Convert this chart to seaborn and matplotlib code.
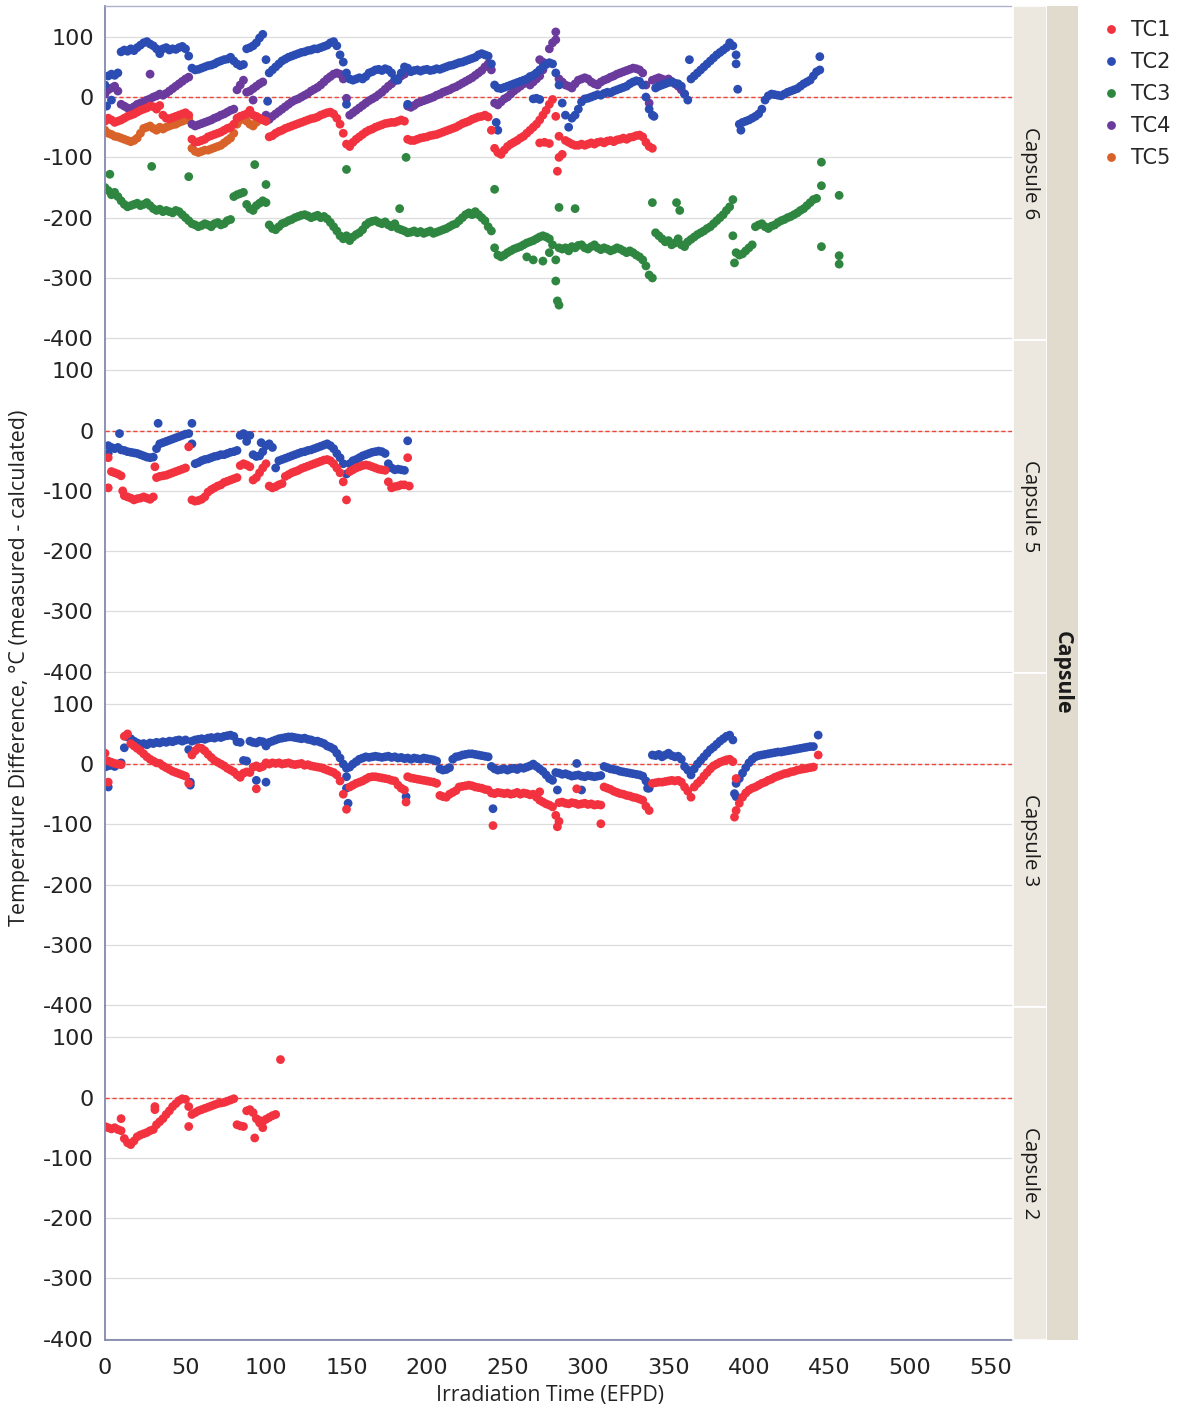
import numpy as np
import pandas as pd
import matplotlib
matplotlib.use("Agg")
import matplotlib.pyplot as plt
from matplotlib.patches import Rectangle
import seaborn as sns

sns.set_theme(style="white")
plt.rcParams["font.family"] = ["Liberation Sans Narrow", "DejaVu Sans"]
plt.rcParams["axes.unicode_minus"] = False

STEP = 2  # EFPD between logged values

# ---------------- Capsule 6 ----------------
c6_tc1_start = 0
c6_tc1 = [-40, -35, -38, -42, -40, -38, -35, -32, -30, -28,
          -25, -22, -20, -18, -15, -16, -20, -14, -30, -35,
          -36, -34, -32, -30, -28, -26, -30, -70, -75, -74,
          -72, -70, -66, -64, -62, -60, -58, -55, -52, -50,
          -45, -35, -32, -30, -28, -22, -30, -32, -35, -38,
          -40, -66, -64, -60, -57, -55, -52, -50, -48, -46,
          -44, -42, -40, -38, -36, -35, -33, -30, -28, -26,
          -25, -28, -35, -45, -60, -78, -82, -75, -70, -66,
          -62, -58, -55, -53, -50, -48, -46, -44, -43, -42,
          -42, -40, -38, -40, -70, -72, -72, -70, -68, -67,
          -66, -64, -63, -62, -60, -58, -56, -54, -52, -50,
          -47, -44, -42, -40, -37, -35, -33, -32, -30, -33,
          -55, -85, -92, -95, -88, -82, -78, -75, -72, -68,
          -65, -60, -55, -50, -45, -38, -30, -22, -12, -4,
          -32, -65, -95, -72, -75, -78, -80, -80, -78, -80,
          -78, -76, -78, -75, -74, -76, -73, -72, -74, -71,
          -70, -68, -70, -67, -66, -64, -63, -66, -75, -82, -85]
c6_tc1_out_x = [270, 273, 276, 282, 281]
c6_tc1_out_y = [-76, -75, -77, -100, -123]

c6_tc2_start = 0
c6_tc2 = [20, 35, 38, 36, 40, 75, 78, 76, 80, 77,
          82, 86, 90, 92, 88, 85, 80, 72, 80, 82,
          78, 80, 79, 82, 84, 80, 68, 48, 45, 46,
          48, 50, 52, 53, 55, 58, 60, 62, 63, 66,
          60, 55, 52, 54, 80, 82, 85, 90, 98, 104,
          62, 40, 45, 50, 55, 60, 63, 66, 68, 70,
          72, 74, 75, 77, 78, 80, 80, 82, 84, 86,
          90, 92, 85, 70, 58, 40, 30, 28, 30, 32,
          30, 34, 40, 42, 45, 46, 44, 47, 45, 40,
          30, 28, 40, 50, 48, 42, 44, 45, 43, 45,
          46, 44, 45, 47, 46, 48, 50, 52, 53, 55,
          57, 58, 60, 62, 64, 66, 70, 72, 70, 68,
          55, 20, 15, 14, 16, 18, 20, 22, 24, 26,
          28, 30, 34, 36, 40, 45, 50, 54, 57, 55,
          40, 20, -10, -30, -50, -35, -30, -20, -8, -3,
          -2, 0, 2, 4, 3, 6, 8, 7, 10, 12,
          14, 16, 18, 22, 25, 27, 26, 20, 0, -20,
          -30, 15, 18, 20, 22, 24, 25, 23, 22, 18,
          5, -5, 30, 35, 40, 45, 50, 55, 60, 65,
          70, 74, 78, 82, 90, 85, 70, -45, -42, -40,
          -38, -35, -32, -28, -20, -5, 2, 5, 4, 3,
          2, 5, 8, 10, 12, 14, 18, 22, 25, 28,
          35, 42, 45]
c6_tc2_out_x = [1, 4, 101, 150, 188, 243, 244, 266, 268, 270, 341, 363, 392, 393, 395, 444]
c6_tc2_out_y = [-15, -5, -7, -12, -12, -42, -55, -3, -2, -4, -32, 62, 55, 13, -55, 67]

c6_tc3_start = 0
c6_tc3 = [-150, -155, -162, -158, -165, -172, -178, -182, -180, -178,
          -176, -180, -178, -175, -180, -185, -188, -186, -190, -188,
          -190, -192, -188, -190, -195, -200, -205, -210, -212, -215,
          -213, -210, -212, -215, -210, -208, -212, -210, -205, -203,
          -165, -162, -160, -158, -178, -185, -188, -180, -176, -172,
          -175, -212, -218, -220, -215, -210, -208, -205, -203, -200,
          -198, -196, -195, -197, -200, -198, -196, -200, -198, -202,
          -208, -215, -222, -230, -235, -230, -238, -232, -228, -225,
          -220, -212, -208, -206, -205, -208, -210, -207, -212, -215,
          -210, -218, -220, -222, -225, -224, -222, -225, -223, -226,
          -224, -222, -226, -224, -222, -220, -218, -215, -212, -210,
          -205, -200, -195, -192, -195, -190, -195, -200, -205, -215,
          -222, -250, -262, -265, -262, -258, -255, -252, -250, -248,
          -245, -242, -240, -238, -235, -232, -230, -232, -235, -245,
          -270, -250, -252, -250, -255, -248, -250, -246, -245, -250,
          -252, -248, -245, -250, -253, -250, -252, -255, -253, -250,
          -252, -255, -258, -255, -258, -262, -265, -270, -280, -295,
          -300, -225, -230, -235, -240, -238, -245, -242, -235, -245,
          -248, -240, -236, -232, -228, -225, -222, -218, -215, -210,
          -205, -200, -195, -188, -182, -230, -258, -262, -260, -255,
          -250, -245, -215, -212, -210, -215, -218, -214, -212, -208,
          -205, -203, -200, -198, -195, -192, -188, -185, -180, -175,
          -170, -168]
c6_tc3_out_x = [3, 29, 52, 93, 100, 150, 183, 187, 242, 262, 266, 272, 276, 280,
                281, 282, 282, 292, 340, 355, 357, 360, 390, 391, 445, 445, 445,
                456, 456, 456]
c6_tc3_out_y = [-128, -115, -132, -112, -145, -120, -185, -100, -153, -265, -270,
                -272, -258, -305, -338, -345, -183, -185, -175, -175, -188, -245,
                -170, -275, -108, -147, -248, -163, -263, -277]

c6_tc4_start = 0
c6_tc4 = [5, 12, 15, 18, 10, -12, -15, -18, -20, -16,
          -12, -10, -8, -5, -3, 0, 2, 5, 3, 6,
          10, 14, 18, 22, 26, 30, 33, -45, -48, -46,
          -44, -42, -40, -38, -35, -33, -30, -28, -25, -22,
          -20, 12, 20, 28, 8, 10, 14, 18, 22, 25,
          -30, -37, -32, -28, -24, -20, -16, -12, -8, -5,
          -3, 0, 3, 6, 10, 13, 16, 20, 25, 30,
          34, 38, 40, 38, 30, -2, -30, -26, -22, -18,
          -14, -10, -6, -3, 0, 4, 8, 13, 18, 22,
          27, 31, 35, 38, -15, -17, -14, -10, -8, -6,
          -4, -2, 0, 3, 5, 8, 10, 12, 15, 17,
          20, 23, 26, 29, 32, 36, 40, 44, 50, 55,
          45, -10, -13, -8, -3, 0, 5, 10, 14, 18,
          22, 26, 20, 25, 30, 35, 45, 55, 80, 90,
          95, 30, 25, 20, 18, 15, 22, 28, 30, 32,
          30, 25, 22, 20, 25, 28, 30, 33, 35, 38,
          40, 42, 44, 46, 48, 47, 45, 40, 20, -10,
          28, 30, 32, 30, 28, 30, 26, 22, 18, 12, 5]
c6_tc4_out_x = [28, 92, 270, 272, 280]
c6_tc4_out_y = [38, -5, 62, 58, 108]

c6_tc5_start = 0
c6_tc5 = [-55, -60, -62, -65, -66, -68, -70, -72, -74, -72,
          -68, -60, -52, -50, -48, -52, -55, -50, -53, -50,
          -48, -46, -45, -42, -40, -38, -36, -85, -90, -92,
          -90, -88, -88, -86, -84, -82, -80, -76, -72, -68,
          -60, -45, -38, -35, -40, -45, -48, -42, -38, -36, -40]
c6_tc5_out_x = []
c6_tc5_out_y = []

# ---------------- Capsule 5 ----------------
c5_tc1_start = 2
c5_tc1 = [-45, -68, -70, -72, -75, -108, -110, -112, -115, -113,
          -112, -110, -112, -114, -110, -78, -76, -75, -74, -72,
          -70, -68, -66, -64, -62, -27, -115, -117, -116, -114,
          -110, -102, -98, -95, -92, -90, -86, -84, -82, -80,
          -78, -58, -55, -57, -60, -82, -78, -70, -62, -55,
          -92, -95, -93, -90, -88, -76, -73, -70, -68, -66,
          -63, -61, -59, -57, -55, -53, -51, -49, -48, -50,
          -55, -62, -70, -85, -115, -68, -65, -62, -60, -58,
          -57, -58, -60, -62, -64, -65, -66, -85, -95, -93,
          -92, -90, -90]
c5_tc1_out_x = [2, 11, 31, 188, 189]
c5_tc1_out_y = [-95, -100, -60, -45, -92]

c5_tc2_start = 2
c5_tc2 = [-25, -28, -30, -28, -32, -33, -35, -36, -37, -38,
          -40, -42, -44, -45, -44, -30, -22, -20, -18, -16,
          -14, -12, -10, -8, -6, -5, -22, -55, -53, -50,
          -48, -47, -45, -43, -42, -40, -40, -38, -36, -35,
          -33, -8, -5, -10, -8, -40, -43, -42, -35, -25,
          -22, -28, -62, -50, -48, -46, -44, -42, -40, -38,
          -36, -35, -33, -32, -30, -28, -26, -24, -22, -25,
          -30, -38, -45, -55, -72, -55, -50, -48, -45, -42,
          -40, -38, -36, -35, -34, -35, -38, -55, -62, -65,
          -64, -65, -66]
c5_tc2_out_x = [2, 9, 33, 54, 88, 97, 188]
c5_tc2_out_y = [-38, -5, 12, 12, -18, -20, -17]

# ---------------- Capsule 3 ----------------
c3_tc1_start = 0
c3_tc1 = [18, 5, 3, 1, 0, -1, 46, 50, 34, 30,
          26, 22, 17, 12, 8, 5, 2, 1, -3, -6,
          -9, -12, -14, -16, -18, -20, -32, 15, 22, 27,
          26, 22, 16, 11, 6, 3, 0, -3, -7, -10,
          -13, -18, -22, -15, -13, -14, -5, -3, -6, -4,
          2, 0, 2, 1, 2, 0, 1, 2, 0, -1,
          0, 1, -2, -1, -3, -4, -5, -6, -8, -10,
          -12, -14, -18, -28, -50, -75, -38, -35, -32, -30,
          -28, -25, -22, -21, -21, -22, -23, -24, -25, -27,
          -28, -35, -40, -43, -21, -23, -24, -25, -26, -27,
          -28, -29, -30, -32, -52, -54, -55, -50, -47, -44,
          -38, -37, -36, -35, -36, -38, -39, -40, -42, -43,
          -48, -49, -47, -48, -49, -48, -50, -49, -47, -50,
          -48, -49, -51, -50, -55, -60, -63, -66, -68, -71,
          -85, -64, -63, -65, -66, -64, -65, -67, -66, -65,
          -67, -66, -68, -67, -68, -38, -40, -42, -45, -47,
          -49, -50, -52, -53, -55, -56, -58, -60, -70, -77,
          -32, -31, -30, -30, -29, -28, -27, -28, -27, -30,
          -38, -45, -55, -38, -32, -27, -20, -14, -8, -3,
          0, 3, 5, 7, 8, 4, -77, -65, -55, -48,
          -43, -40, -38, -35, -32, -30, -27, -25, -22, -20,
          -18, -16, -15, -13, -12, -10, -9, -8, -7, -6,
          -5]
c3_tc1_out_x = [2, 94, 187, 241, 270, 281, 282, 293, 308, 391, 392, 443]
c3_tc1_out_y = [-30, -41, -63, -102, -46, -104, -95, -41, -99, -88, -24, 15]

c3_tc2_start = 0
c3_tc2 = [-5, -3, -2, -4, 0, 2, 27, 45, 42, 38,
          35, 33, 34, 32, 35, 34, 36, 35, 37, 36,
          38, 37, 39, 40, 38, 40, 24, 38, 40, 41,
          42, 41, 43, 44, 43, 45, 44, 46, 47, 48,
          46, 37, 36, 6, 5, 38, 36, 35, 38, 37,
          30, 36, 38, 40, 42, 43, 44, 45, 45, 44,
          43, 42, 43, 41, 40, 38, 38, 36, 34, 30,
          28, 25, 18, 10, 0, -7, -5, 0, 4, 8,
          10, 12, 11, 12, 13, 12, 11, 12, 13, 11,
          12, 10, 11, 9, 10, 8, 10, 9, 8, 10,
          9, 8, 7, 5, -8, -10, -9, -6, 8, 12,
          13, 15, 16, 17, 17, 16, 15, 14, 13, 12,
          -4, -8, -10, -9, -8, -10, -8, -7, -9, -6,
          -7, -5, -3, 0, -4, -8, -12, -18, -24, -27,
          -14, -15, -17, -16, -18, -20, -19, -18, -20, -21,
          -19, -20, -21, -20, -19, -4, -6, -8, -9, -10,
          -12, -13, -14, -15, -16, -17, -18, -20, -28, -40,
          15, 14, 16, 12, 15, 18, 14, 12, 13, 8,
          -4, -10, -18, -8, 0, 6, 12, 18, 24, 28,
          33, 38, 42, 46, 48, 40, -32, -24, -15, -6,
          2, 8, 12, 14, 15, 16, 17, 18, 19, 20,
          20, 21, 22, 23, 24, 25, 26, 27, 28, 29,
          29]
c3_tc2_out_x = [2, 53, 53, 94, 100, 150, 150, 151, 187, 241, 281, 293, 296, 337, 391, 392, 443]
c3_tc2_out_y = [-38, -30, -35, -27, -30, -21, -40, -65, -54, -74, -43, 1, -43, -40, -49, -54, 48]

# ---------------- Capsule 2 ----------------
c2_tc1_start = 0
c2_tc1 = [-48, -50, -52, -50, -53, -55, -68, -75, -78, -72,
          -65, -62, -60, -58, -55, -53, -45, -40, -35, -28,
          -22, -15, -10, -5, -2, -3, -15, -28, -25, -22,
          -20, -18, -16, -14, -12, -10, -9, -8, -6, -4,
          -2, -45, -47, -48, -22, -20, -25, -35, -38, -40,
          -36, -33, -30, -28]
c2_tc1_out_x = [10, 31, 31, 52, 93, 96, 98, 109]
c2_tc1_out_y = [-35, -15, -20, -48, -67, -42, -50, 63]

capsules = ["Capsule 6", "Capsule 5", "Capsule 3", "Capsule 2"]
tc_names = ["TC1", "TC2", "TC3", "TC4", "TC5"]
palette = {"TC1": "#F2323F", "TC2": "#2B4DB3", "TC3": "#2E8640",
           "TC4": "#6A3A9C", "TC5": "#D8622A"}
x_ticks = [0, 50, 100, 150, 200, 250, 300, 350, 400, 450, 500, 550]
y_ticks = [-400, -300, -200, -100, 0, 100]


def frame(capsule, tc, start, vals, out_x, out_y):
    days = start + STEP * np.arange(len(vals))
    d = pd.DataFrame({"day": np.concatenate([days, np.asarray(out_x, float)]),
                      "diff": np.concatenate([np.asarray(vals, float),
                                              np.asarray(out_y, float)])})
    d["tc"] = tc
    d["capsule"] = capsule
    return d


data = pd.concat([
    frame("Capsule 6", "TC3", c6_tc3_start, c6_tc3, c6_tc3_out_x, c6_tc3_out_y),
    frame("Capsule 6", "TC5", c6_tc5_start, c6_tc5, c6_tc5_out_x, c6_tc5_out_y),
    frame("Capsule 6", "TC4", c6_tc4_start, c6_tc4, c6_tc4_out_x, c6_tc4_out_y),
    frame("Capsule 6", "TC2", c6_tc2_start, c6_tc2, c6_tc2_out_x, c6_tc2_out_y),
    frame("Capsule 6", "TC1", c6_tc1_start, c6_tc1, c6_tc1_out_x, c6_tc1_out_y),
    frame("Capsule 5", "TC2", c5_tc2_start, c5_tc2, c5_tc2_out_x, c5_tc2_out_y),
    frame("Capsule 5", "TC1", c5_tc1_start, c5_tc1, c5_tc1_out_x, c5_tc1_out_y),
    frame("Capsule 3", "TC2", c3_tc2_start, c3_tc2, c3_tc2_out_x, c3_tc2_out_y),
    frame("Capsule 3", "TC1", c3_tc1_start, c3_tc1, c3_tc1_out_x, c3_tc1_out_y),
    frame("Capsule 2", "TC1", c2_tc1_start, c2_tc1, c2_tc1_out_x, c2_tc1_out_y),
], ignore_index=True)

W, H = 1180, 1411
fig = plt.figure(figsize=(W / 100, H / 100), dpi=100)


def fx(px):
    return px / W


def fy(py):
    return 1 - py / H


AX_L, AX_R = 105, 1013
P_TOP, P_BOT = 6, 1340
ph = (P_BOT - P_TOP) / 4
spine_col = "#8489AE"
sans = ["Open Sans", "DejaVu Sans"]

legend_handles = None
for i, cap in enumerate(capsules):
    top = P_TOP + i * ph
    bot = top + ph
    ax = fig.add_axes([fx(AX_L), fy(bot), (AX_R - AX_L) / W, ph / H])
    sub = data[data["capsule"] == cap]
    sns.scatterplot(data=sub, x="day", y="diff", hue="tc", palette=palette,
                    s=40, linewidth=0, ax=ax, legend=(i == 0))
    if i == 0:
        legend_handles = ax.get_legend_handles_labels()
        ax.get_legend().remove()
    ax.set_xlim(0, 564)
    ax.set_ylim(-402, 151)
    ax.set_yticks(y_ticks)
    ax.set_xticks(x_ticks)
    ax.set_axisbelow(True)
    ax.grid(axis="y", color="#DCDCDC", lw=0.9)
    ax.grid(axis="x", visible=False)
    ax.axhline(0, color="#EE4436", lw=1.0, ls=(0, (3, 2)), zorder=0.8)
    ax.set_xlabel("")
    ax.set_ylabel("")
    for side in ["left", "right", "top", "bottom"]:
        ax.spines[side].set_visible(False)
    ax.spines["left"].set_visible(True)
    ax.spines["left"].set_color(spine_col)
    ax.spines["left"].set_linewidth(1.3)
    if i == 0:
        ax.spines["top"].set_visible(True)
        ax.spines["top"].set_color("#AEB2CC")
        ax.spines["top"].set_linewidth(1.0)
    ax.tick_params(axis="y", direction="out", length=5, width=1,
                   color=spine_col, labelsize=16, pad=3, labelcolor="#222222")
    if i == 3:
        ax.spines["bottom"].set_visible(True)
        ax.spines["bottom"].set_color(spine_col)
        ax.spines["bottom"].set_linewidth(1.3)
        ax.tick_params(axis="x", direction="out", length=5, width=1,
                       color=spine_col, labelsize=16, pad=8, labelcolor="#222222")
    else:
        ax.tick_params(axis="x", bottom=False, labelbottom=False)

    # facet strip for this capsule
    fig.add_artist(Rectangle((fx(AX_R), fy(bot)), (1047 - AX_R) / W, ph / H,
                             transform=fig.transFigure, facecolor="#ECE8DF",
                             edgecolor="white", lw=1.2))
    fig.text(fx(1030), fy((top + bot) / 2), cap, rotation=270, ha="center",
             va="center", fontsize=14.7, family=sans, color="#1a1a1a")

# outer strip naming the faceting variable
fig.add_artist(Rectangle((fx(1047), fy(P_BOT)), (1078 - 1047) / W,
                         (P_BOT - P_TOP) / H, transform=fig.transFigure,
                         facecolor="#E1DBCE", edgecolor="none"))
fig.text(fx(1062), fy(673), "Capsule", rotation=270, ha="center", va="center",
         fontsize=15.3, fontweight="bold", family=sans, color="#1a1a1a")

fig.text(fx(20), fy(668), "Temperature Difference, °C (measured - calculated)",
         rotation=90, ha="center", va="center", fontsize=15.5, family=sans,
         color="#222222")
fig.text(fx(550), fy(1396), "Irradiation Time (EFPD)", ha="center", va="center",
         fontsize=15.3, family=sans, color="#222222")

handles, labels = legend_handles
order = [labels.index(t) for t in tc_names]
fig.legend([handles[k] for k in order], [labels[k] for k in order],
           loc="upper left", bbox_to_anchor=(fx(1103), fy(20)), frameon=False,
           prop={"family": ["Liberation Sans Narrow", "DejaVu Sans"], "size": 15},
           handletextpad=0.55, labelspacing=0.58, handlelength=0.8,
           borderaxespad=0, borderpad=0)

fig.savefig("out.png", dpi=100)
